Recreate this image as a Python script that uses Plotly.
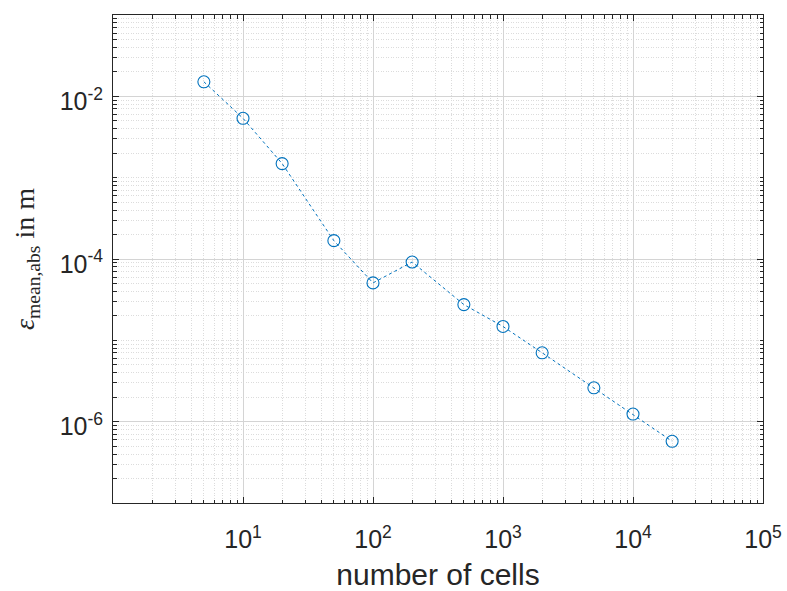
import plotly.graph_objects as go

cells = [5, 10, 20, 50, 100, 200, 500, 1000, 2000, 5000, 10000, 20000]
err = [1.51e-2, 5.37e-3, 1.49e-3, 1.68e-4, 5.08e-5, 9.18e-5, 2.75e-5,
       1.48e-5, 7.03e-6, 2.61e-6, 1.24e-6, 5.74e-7]

x_tickvals = [10, 100, 1000, 10000, 100000]
x_ticktext = ["10<sup>1</sup>", "10<sup>2</sup>", "10<sup>3</sup>", "10<sup>4</sup>", "10<sup>5</sup>"]
y_tickvals = [1e-6, 1e-4, 1e-2]
y_ticktext = ["10<sup>-6</sup>", "10<sup>-4</sup>", "10<sup>-2</sup>"]

x_decades = [0, 1, 2, 3, 4]
y_decades = [-7, -6, -5, -4, -3, -2]
x_minor = [k * 10.0 ** d for d in x_decades for k in range(1, 10) if not (k == 1 and d >= 1)]
y_minor = [k * 10.0 ** d for d in y_decades for k in range(1, 10) if not (k == 1 and d in (-6, -4, -2))]

blue = "#0072BD"
axcol = "#262626"
sans = "Liberation Sans, Arial, sans-serif"

fig = go.Figure()
fig.add_trace(go.Scatter(
    x=cells, y=err, mode="lines+markers",
    line=dict(color=blue, width=1, dash="dot"),
    marker=dict(symbol="circle-open", size=12, color=blue, line=dict(width=1.1, color=blue)),
    showlegend=False,
))

def common(minor_vals):
    return dict(
        type="log", showline=True, linecolor=axcol, linewidth=1, mirror="allticks",
        ticks="inside", ticklen=6, tickcolor=axcol, tickwidth=1,
        showgrid=True, gridcolor="#d4d4d4", gridwidth=1,
        zeroline=False, automargin=False,
        tickfont=dict(family=sans, size=25, color=axcol),
        minor=dict(ticks="inside", ticklen=3.5, tickcolor=axcol, tickmode="array",
                   tickvals=minor_vals, showgrid=True,
                   gridcolor="#dcdcdc", griddash="1px,1.5px", gridwidth=1),
    )

fig.update_xaxes(range=[0, 5], tickvals=x_tickvals, ticktext=x_ticktext,
                 ticklabelstandoff=14,
                 title=dict(text="number of cells", standoff=12,
                            font=dict(family=sans, size=30, color=axcol)),
                 **common(x_minor))
fig.update_yaxes(range=[-7, -1], tickvals=y_tickvals, ticktext=y_ticktext,
                 ticklabelstandoff=4, ticklabelshift=5,
                 title=dict(text="<i>ε</i><sub>mean,abs</sub> in m", standoff=16,
                            font=dict(family="Liberation Serif, DejaVu Serif, serif", size=28, color=axcol)),
                 **common(y_minor))

fig.update_layout(
    width=787, height=591,
    margin=dict(l=113, r=24, t=15, b=88),
    plot_bgcolor="white", paper_bgcolor="white",
)

fig.write_html("out.html")
